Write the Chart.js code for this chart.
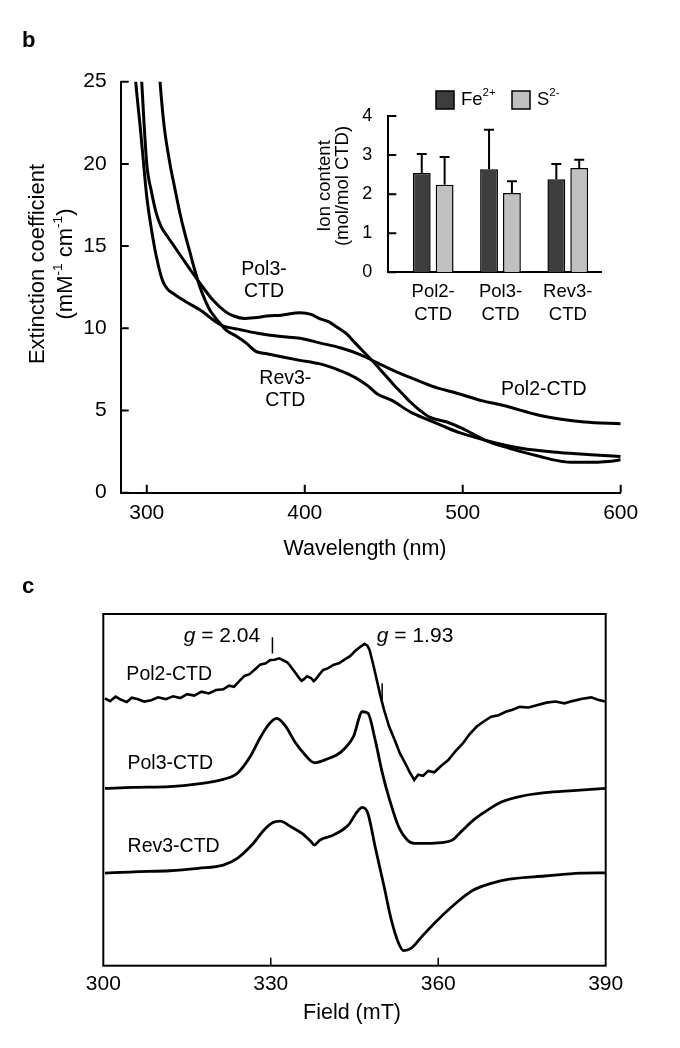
<!DOCTYPE html>
<html>
<head>
<meta charset="utf-8">
<script src="https://cdn.jsdelivr.net/npm/chart.js@4"></script>
<style>
  body { margin: 0; background: #fff; width: 680px; height: 1048px; position: relative; overflow: hidden; }
  canvas { position: absolute; }
</style>
</head>
<body>
<canvas id="uvChart" width="680" height="560" style="left:0;top:0"></canvas>
<canvas id="ionChart" width="340" height="270" style="left:300px;top:70px"></canvas>
<canvas id="eprChart" width="680" height="488" style="left:0;top:560px"></canvas>
<script>
// ---- panel b : UV-vis spectra ----
const wlTicks = [300, 400, 500, 600];
const extTicks = [0, 5, 10, 15, 20, 25];

const pol2Nm  = [289, 293, 296, 298, 300, 303, 306, 310, 313, 317, 325, 334, 347, 360, 370, 385, 397, 410, 423, 435, 446, 457, 467, 480, 498, 512, 526, 549, 577, 600];
const pol2Ext = [30, 25, 22.1, 20.0, 18.0, 16.0, 14.4, 12.9, 12.4, 12.1, 11.6, 11.1, 10.2, 9.9, 9.7, 9.5, 9.4, 9.1, 8.8, 8.4, 7.9, 7.4, 7.0, 6.5, 6.0, 5.6, 5.3, 4.7, 4.3, 4.2];

const pol3Nm  = [294, 296.8, 300, 303, 306, 309, 313, 318, 323, 328, 334, 342, 350, 355, 362, 370, 376, 385, 397, 404, 409, 415, 420, 426, 432, 438, 444, 450, 456, 462, 467, 473, 479, 490, 500, 514, 526, 537, 549, 560, 568, 576, 584, 592, 600];
const pol3Ext = [30, 25, 20.0, 18.3, 17.0, 16.2, 15.6, 14.9, 14.2, 13.5, 12.7, 11.7, 11.0, 10.75, 10.6, 10.65, 10.75, 10.8, 10.95, 10.85, 10.6, 10.4, 10.1, 9.7, 9.1, 8.5, 7.9, 7.25, 6.6, 6.0, 5.5, 5.0, 4.6, 4.3, 3.9, 3.2, 2.8, 2.5, 2.2, 1.95, 1.85, 1.85, 1.85, 1.9, 2.0];

const rev3Nm  = [305, 308.4, 311, 314.7, 318, 321, 324, 327.4, 330.5, 333.7, 337, 340, 343, 346.4, 350, 357, 363, 369, 376, 386, 397, 409, 416, 423, 432, 440, 446, 455.5, 467, 479, 490, 498, 514, 537, 561, 584, 600];
const rev3Ext = [30, 25, 22.3, 20.0, 18.4, 17.0, 15.8, 14.6, 13.5, 12.5, 11.7, 11.1, 10.7, 10.3, 9.9, 9.5, 9.1, 8.6, 8.45, 8.25, 8.05, 7.85, 7.65, 7.4, 7.0, 6.5, 6.0, 5.6, 4.9, 4.4, 3.95, 3.65, 3.2, 2.7, 2.45, 2.3, 2.2];

// ---- panel b inset : ion content ----
const ionCategories = ['Pol2-CTD', 'Pol3-CTD', 'Rev3-CTD'];
const ionPos = [1, 2, 3];
const ionTicks = [0, 1, 2, 3, 4];
const feMean = [2.54, 2.64, 2.38];
const feSd   = [0.49, 1.01, 0.39];
const sMean  = [2.24, 2.03, 2.67];
const sSd    = [0.71, 0.30, 0.21];

// ---- panel c : EPR spectra (arbitrary units, traces offset) ----
const fieldTicks = [300, 330, 360, 390];

const pol2Field = [300.3, 301.2, 302.2, 303.2, 304.2, 305.1, 306.1, 307.3, 308.6, 309.8, 311.2, 312.5, 313.8, 315.0, 316.3, 317.6, 318.9, 320.2, 321.5, 322.5, 323.4, 324.4, 325.3, 326.2, 327.2, 328.1, 329.1, 329.9, 330.7, 331.5, 332.4, 333.0, 333.6, 334.3, 334.9, 335.5, 335.9, 336.5, 337.2, 337.7, 338.1, 338.8, 339.4, 340.3, 341.3, 342.2, 343.2, 344.2, 345.2, 346.0, 346.8, 347.3, 347.7, 348.3, 349.0, 349.6, 350.3, 351.2, 352.2, 353.1, 354.1, 354.9, 355.7, 356.4, 357.3, 358.2, 359.3, 360.5, 361.8, 363.1, 364.4, 365.6, 366.9, 368.2, 369.5, 370.8, 372.1, 373.3, 374.6, 376.2, 377.8, 379.4, 381.0, 382.6, 384.2, 385.8, 387.4, 388.6, 389.9];
const pol2Int   = [76.0, 75.2, 76.5, 75.6, 75.0, 76.2, 75.8, 75.1, 75.5, 76.3, 75.8, 76.6, 76.1, 77.2, 76.8, 77.9, 77.4, 78.4, 78.6, 79.6, 79.3, 81.0, 82.4, 82.9, 84.3, 85.6, 86.0, 86.9, 87.0, 87.4, 86.7, 86.2, 85.0, 83.5, 82.2, 81.0, 81.4, 82.3, 81.8, 80.9, 81.5, 83.0, 84.1, 84.6, 85.6, 86.0, 87.0, 88.0, 89.6, 90.6, 91.5, 91.0, 89.8, 86.0, 81.2, 77.0, 72.7, 68.0, 64.2, 60.5, 57.5, 55.0, 52.8, 54.3, 54.0, 55.4, 55.0, 56.8, 58.5, 61.0, 63.2, 65.8, 68.0, 69.5, 70.8, 71.2, 72.2, 72.8, 73.6, 73.4, 74.1, 74.8, 75.1, 74.6, 75.3, 75.9, 76.3, 75.6, 75.1];

const pol3Field = [300.3, 305.4, 311.9, 317.0, 321.5, 324.0, 326.3, 328.2, 329.8, 331.1, 332.7, 334.3, 335.9, 337.8, 340.0, 342.6, 344.8, 346.4, 347.4, 348.7, 350.0, 351.3, 352.9, 354.5, 355.7, 358.0, 360.5, 362.5, 364.4, 366.3, 368.9, 371.4, 374.6, 379.1, 384.2, 389.9];
const pol3Int   = [50.4, 50.7, 50.9, 51.7, 53.0, 54.7, 59.4, 65.1, 68.9, 70.3, 68.0, 63.7, 60.4, 57.7, 58.7, 60.8, 65.1, 72.2, 71.8, 64.2, 54.7, 47.1, 39.5, 35.7, 34.8, 34.8, 35.0, 35.7, 38.6, 41.4, 44.3, 46.6, 48.1, 49.2, 49.8, 50.4];

const rev3Field = [300.3, 305.4, 311.9, 317.0, 321.5, 324.0, 326.6, 328.8, 330.4, 331.7, 333.6, 335.6, 337.2, 337.8, 338.8, 341.3, 343.9, 345.5, 346.4, 347.4, 348.7, 350.3, 351.6, 352.9, 353.8, 355.1, 357.3, 359.9, 363.1, 366.3, 369.5, 372.7, 379.1, 385.5, 389.9];
const rev3Int   = [26.3, 26.7, 27.0, 27.7, 28.6, 30.5, 34.3, 38.6, 40.7, 41.1, 39.5, 37.6, 35.3, 34.3, 35.7, 37.2, 40.0, 43.8, 45.0, 43.3, 33.8, 22.5, 13.0, 6.4, 4.3, 4.9, 8.7, 13.0, 17.7, 21.5, 23.4, 24.6, 25.5, 26.3, 26.4];

const FONT = '"Liberation Sans", Arial, sans-serif';
Chart.defaults.font.family = FONT;
Chart.defaults.color = '#000';

function pts(xs, ys) {
  return xs.map((v, i) => ({ x: v, y: ys[i] }));
}

function fontFor(p, size) {
  const s = p.sup ? size * 0.62 : size;
  return (p.italic ? 'italic ' : '') + (p.bold ? 'bold ' : '') + s + 'px ' + FONT;
}

// text with superscripts / italics, centred or left aligned on (x, y)
function drawRich(ctx, parts, x, y, size, align) {
  let w = 0;
  parts.forEach(p => { ctx.font = fontFor(p, size); w += ctx.measureText(p.t).width; });
  let cx = align === 'left' ? x : x - w / 2;
  ctx.textAlign = 'left';
  ctx.textBaseline = 'middle';
  parts.forEach(p => {
    ctx.font = fontFor(p, size);
    ctx.fillText(p.t, cx, p.sup ? y - size * 0.36 : y);
    cx += ctx.measureText(p.t).width;
  });
}

function drawRotated(ctx, parts, x, y, size) {
  ctx.save();
  ctx.translate(x, y);
  ctx.rotate(-Math.PI / 2);
  drawRich(ctx, parts, 0, 0, size);
  ctx.restore();
}

function lineSet(xs, ys, width, smooth) {
  return {
    data: pts(xs, ys),
    borderColor: '#000',
    borderWidth: width,
    pointRadius: 0,
    fill: false,
    cubicInterpolationMode: smooth ? 'monotone' : 'default',
    tension: 0
  };
}

// ---------------- panel b ----------------
const uvDecor = {
  id: 'uvDecor',
  afterDraw(chart) {
    const { ctx, scales: { x, y }, chartArea: a } = chart;
    ctx.save();
    ctx.strokeStyle = '#000';
    ctx.lineWidth = 2;
    ctx.beginPath();
    wlTicks.forEach(v => {
      const px = x.getPixelForValue(v);
      ctx.moveTo(px, a.bottom); ctx.lineTo(px, a.bottom - 8);
    });
    extTicks.forEach(v => {
      const py = y.getPixelForValue(v);
      ctx.moveTo(a.left, py); ctx.lineTo(a.left + 8, py);
    });
    ctx.stroke();

    ctx.fillStyle = '#000';
    drawRich(ctx, [{ t: 'b', bold: true }], 22, 41, 22, 'left');
    drawRotated(ctx, [{ t: 'Extinction coefficient' }], 37.5, 264, 22);
    drawRotated(ctx, [{ t: '(mM' }, { t: '-1', sup: true }, { t: ' cm' }, { t: '-1', sup: true }, { t: ')' }], 66, 264, 22);
    drawRich(ctx, [{ t: 'Wavelength (nm)' }], 365, 549, 21.5);

    // curve labels
    const lab = (lines, nm, v) => {
      const px = x.getPixelForValue(nm), py = y.getPixelForValue(v);
      lines.forEach((l, i) => drawRich(ctx, [{ t: l }], px, py + i * 22, 19.5));
    };
    lab(['Pol3-', 'CTD'], 374.2, 13.55);
    lab(['Rev3-', 'CTD'], 387.7, 6.96);
    lab(['Pol2-CTD'], 551.3, 6.29);
    ctx.restore();
  }
};

const uvChart = new Chart(document.getElementById('uvChart'), {
  type: 'line',
  data: {
    datasets: [
      lineSet(pol2Nm, pol2Ext, 3, true),
      lineSet(pol3Nm, pol3Ext, 3, true),
      lineSet(rev3Nm, rev3Ext, 3, true)
    ]
  },
  options: {
    responsive: false,
    animation: false,
    devicePixelRatio: 1,
    layout: { padding: { top: 81.7, right: 59.3, left: 0, bottom: 0 } },
    plugins: { legend: { display: false }, tooltip: { enabled: false } },
    scales: {
      x: {
        type: 'linear', min: 283.5, max: 600,
        afterBuildTicks: s => { s.ticks = wlTicks.map(v => ({ value: v })); },
        afterFit: s => { s.height = 67.3; },
        grid: { display: false, drawTicks: false },
        border: { display: true, color: '#000', width: 2 },
        ticks: { font: { size: 21 }, color: '#000', padding: 8, maxRotation: 0, autoSkip: false }
      },
      y: {
        type: 'linear', min: 0, max: 25,
        afterBuildTicks: s => { s.ticks = extTicks.map(v => ({ value: v })); },
        afterFit: s => { s.width = 120.7; },
        grid: { display: false, drawTicks: false },
        border: { display: true, color: '#000', width: 2 },
        ticks: { font: { size: 21 }, color: '#000', padding: 14 }
      }
    }
  },
  plugins: [uvDecor]
});

// ---------------- inset ----------------
const ionDecor = {
  id: 'ionDecor',
  afterDatasetsDraw(chart) {
    const { ctx, scales: { y } } = chart;
    const sds = [feSd, sSd];
    const means = [feMean, sMean];
    ctx.save();
    ctx.strokeStyle = '#000';
    ctx.lineWidth = 2;
    ctx.beginPath();
    [0, 1].forEach(d => {
      chart.getDatasetMeta(d).data.forEach((bar, j) => {
        const top = y.getPixelForValue(means[d][j] + sds[d][j]);
        ctx.moveTo(bar.x, bar.y); ctx.lineTo(bar.x, top);
        ctx.moveTo(bar.x - 5, top); ctx.lineTo(bar.x + 5, top);
      });
    });
    ctx.stroke();
    ctx.restore();
  },
  afterDraw(chart) {
    const { ctx, scales: { y }, chartArea: a } = chart;
    ctx.save();
    ctx.strokeStyle = '#000';
    ctx.lineWidth = 2;
    ctx.beginPath();
    ionTicks.forEach(v => {
      const py = y.getPixelForValue(v);
      ctx.moveTo(a.left, py); ctx.lineTo(a.left + 8, py);
    });
    ctx.stroke();

    ctx.fillStyle = '#000';
    drawRotated(ctx, [{ t: 'Ion content' }], 25, 116, 18.5);
    drawRotated(ctx, [{ t: '(mol/mol CTD)' }], 43, 116, 18.5);

    // legend
    const ds = chart.data.datasets;
    const legend = [
      { bx: 136, parts: [{ t: 'Fe' }, { t: '2+', sup: true }] },
      { bx: 212, parts: [{ t: 'S' }, { t: '2-', sup: true }] }
    ];
    legend.forEach((l, i) => {
      ctx.fillStyle = ds[i].backgroundColor;
      ctx.fillRect(l.bx, 21, 18, 18);
      ctx.lineWidth = 1.5;
      ctx.strokeRect(l.bx, 21, 18, 18);
      ctx.fillStyle = '#000';
      drawRich(ctx, l.parts, l.bx + 25, 30, 18.5, 'left');
    });
    ctx.restore();
  }
};

const ionChart = new Chart(document.getElementById('ionChart'), {
  type: 'bar',
  data: {
    datasets: [
      { label: 'Fe2+', data: pts(ionPos, feMean), backgroundColor: '#3d3d3d', borderColor: '#000', borderWidth: 1.5, categoryPercentage: 0.68, barPercentage: 0.78 },
      { label: 'S2-', data: pts(ionPos, sMean), backgroundColor: '#c0c0c0', borderColor: '#000', borderWidth: 1.5, categoryPercentage: 0.68, barPercentage: 0.78 }
    ]
  },
  options: {
    responsive: false,
    animation: false,
    devicePixelRatio: 1,
    layout: { padding: { top: 46, right: 38.3, left: 0, bottom: 0 } },
    plugins: { legend: { display: false }, tooltip: { enabled: false } },
    scales: {
      x: {
        type: 'linear', min: 0.333, max: 3.504, offset: false,
        afterBuildTicks: s => { s.ticks = ionPos.map(v => ({ value: v })); },
        afterFit: s => { s.height = 67.7; },
        grid: { display: false, drawTicks: false },
        border: { display: true, color: '#000', width: 2 },
        ticks: {
          font: { size: 18.5 }, color: '#000', padding: 9, maxRotation: 0, autoSkip: false,
          callback: v => {
            const name = ionCategories[ionPos.indexOf(v)] || '';
            const k = name.indexOf('-');
            return [name.slice(0, k + 1), name.slice(k + 1)];
          }
        }
      },
      y: {
        type: 'linear', min: 0, max: 4,
        afterBuildTicks: s => { s.ticks = ionTicks.map(v => ({ value: v })); },
        afterFit: s => { s.width = 88.3; },
        grid: { display: false, drawTicks: false },
        border: { display: true, color: '#000', width: 2 },
        ticks: { font: { size: 18 }, color: '#000', padding: 16 }
      }
    }
  },
  plugins: [ionDecor]
});

// ---------------- panel c ----------------
const eprDecor = {
  id: 'eprDecor',
  afterDraw(chart) {
    const { ctx, scales: { x, y }, chartArea: a } = chart;
    ctx.save();
    ctx.strokeStyle = '#000';
    ctx.lineWidth = 2;
    ctx.strokeRect(a.left, a.top, a.right - a.left, a.bottom - a.top);
    ctx.beginPath();
    fieldTicks.slice(1, -1).forEach(v => {
      const px = x.getPixelForValue(v);
      ctx.moveTo(px, a.bottom); ctx.lineTo(px, a.bottom - 8);
    });
    // g-value markers
    ctx.lineWidth = 1.5;
    [[330.3, 93.4, 88.8], [349.95, 80.3, 75.7]].forEach(m => {
      const px = x.getPixelForValue(m[0]);
      ctx.moveTo(px, y.getPixelForValue(m[1]));
      ctx.lineTo(px, y.getPixelForValue(m[2]));
    });
    ctx.stroke();

    ctx.fillStyle = '#000';
    drawRich(ctx, [{ t: 'c', bold: true }], 22, 27, 22, 'left');
    drawRich(ctx, [{ t: 'Field (mT)' }], 352, 453, 21.5);

    const gy = y.getPixelForValue(93.8);
    drawRich(ctx, [{ t: 'g', italic: true }, { t: ' = 2.04' }], x.getPixelForValue(314.4), gy, 21, 'left');
    drawRich(ctx, [{ t: 'g', italic: true }, { t: ' = 1.93' }], x.getPixelForValue(349.0), gy, 21, 'left');

    [['Pol2-CTD', 311.8, 82.7], ['Pol3-CTD', 312.0, 57.5], ['Rev3-CTD', 312.6, 33.8]].forEach(l => {
      drawRich(ctx, [{ t: l[0] }], x.getPixelForValue(l[1]), y.getPixelForValue(l[2]), 19.5);
    });
    ctx.restore();
  }
};

const eprChart = new Chart(document.getElementById('eprChart'), {
  type: 'line',
  data: {
    datasets: [
      lineSet(pol2Field, pol2Int, 2.6, false),
      lineSet(pol3Field, pol3Int, 2.8, true),
      lineSet(rev3Field, rev3Int, 2.8, true)
    ]
  },
  options: {
    responsive: false,
    animation: false,
    devicePixelRatio: 1,
    layout: { padding: { top: 54, right: 74.3, left: 103.3, bottom: 0 } },
    plugins: { legend: { display: false }, tooltip: { enabled: false } },
    scales: {
      x: {
        type: 'linear', min: 300, max: 390,
        afterBuildTicks: s => { s.ticks = fieldTicks.map(v => ({ value: v })); },
        afterFit: s => { s.height = 82.3; },
        grid: { display: false, drawTicks: false },
        border: { display: false },
        ticks: { font: { size: 21 }, color: '#000', padding: 6, maxRotation: 0, autoSkip: false }
      },
      y: { type: 'linear', min: 0, max: 100, display: false }
    }
  },
  plugins: [eprDecor]
});
</script>
</body>
</html>
